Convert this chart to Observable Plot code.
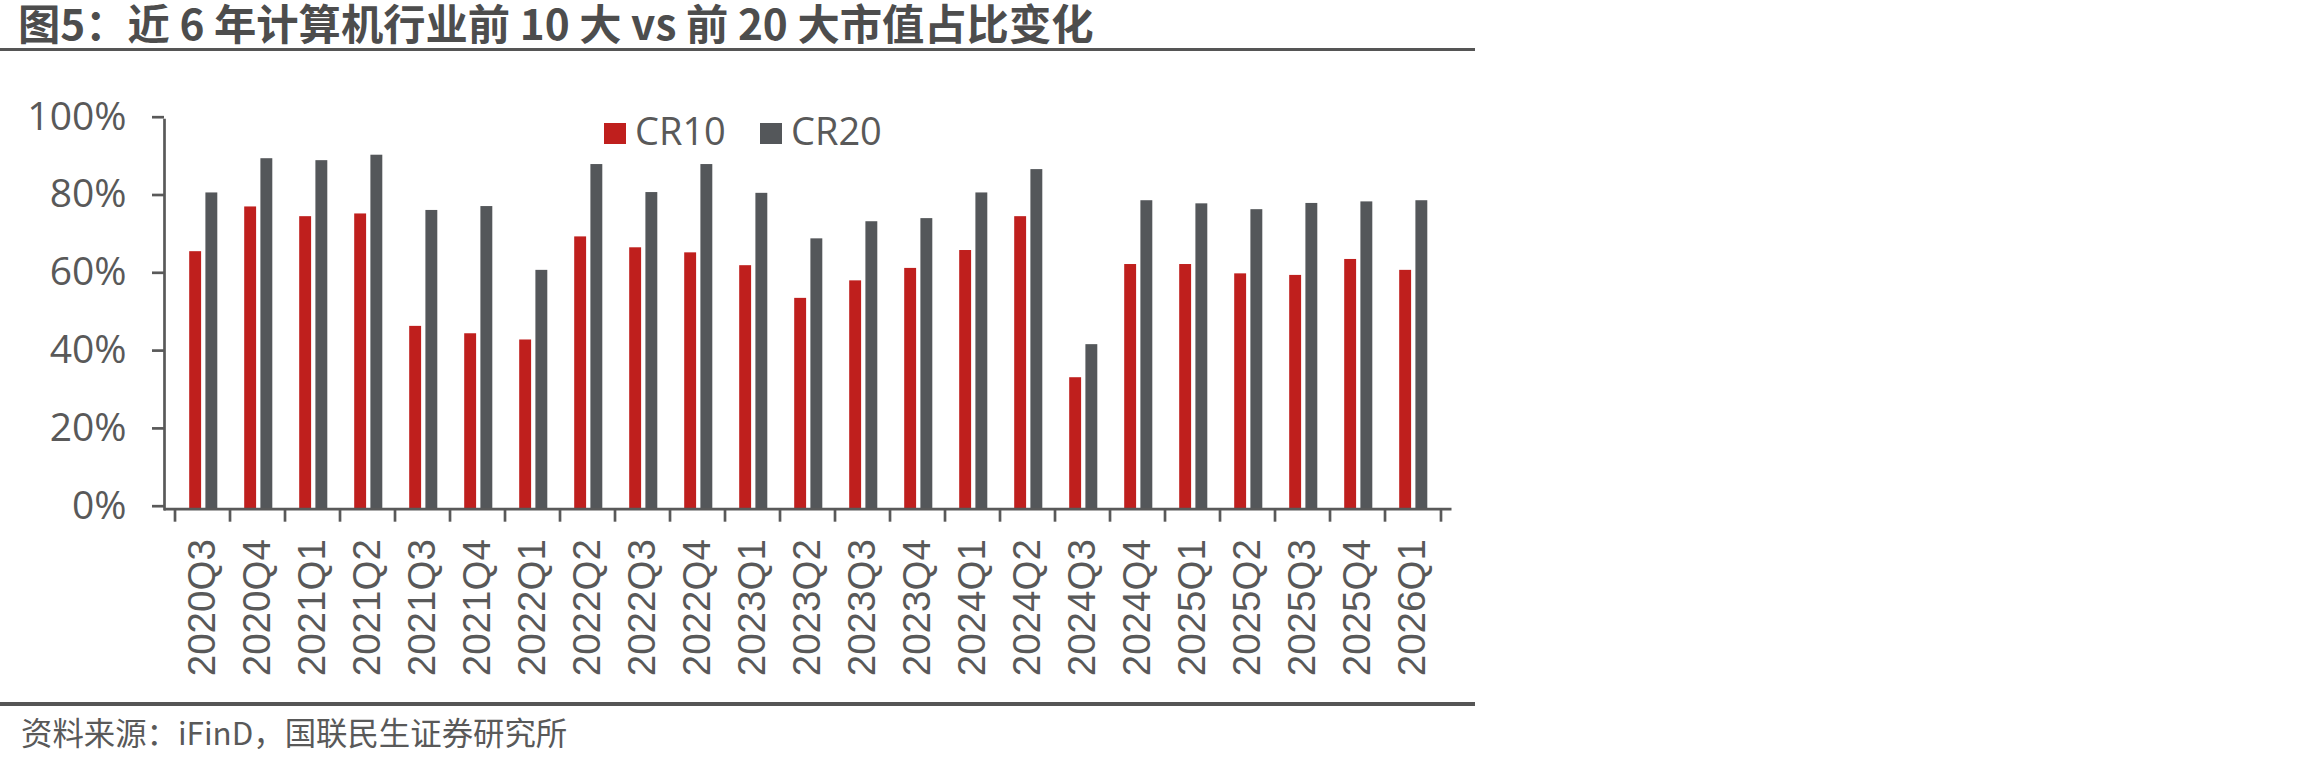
<!DOCTYPE html>
<html>
<head>
<meta charset="utf-8">
<script src="https://cdn.jsdelivr.net/npm/d3@7"></script>
<script src="https://cdn.jsdelivr.net/npm/@observablehq/plot@0.6"></script>
<style>
  html, body { margin: 0; padding: 0; background: #fff; }
  #wrap { position: relative; width: 2310px; height: 765px; background: #fff; overflow: hidden; }
  #title { position: absolute; left: 18px; top: 0px; font-family: "Noto Sans CJK SC", sans-serif; font-weight: bold; font-size: 42.3px; line-height: 1.05; color: #4d4d4d; white-space: nowrap; }
  .rule { position: absolute; left: 0; width: 1475px; height: 3.5px; background: #555; }
  #chart { position: absolute; left: 0; top: 59.5px; line-height: 0; }
  #chart svg { display: block; }
  #legend { position: absolute; left: 604px; top: 111px; height: 40px; font-family: "Open Sans", sans-serif; font-size: 38px; line-height: 1; color: #595959; white-space: nowrap; }
  .sw { position: absolute; top: 11.7px; width: 21.7px; height: 21.7px; }
  .lt { position: absolute; top: 0; }
  #caption { position: absolute; left: 21px; top: 716px; font-family: "Noto Sans CJK SC", sans-serif; font-size: 31.4px; line-height: 1; color: #595959; white-space: nowrap; }
</style>
</head>
<body>
<div id="wrap">
  <div id="title"></div>
  <div class="rule" style="top:47.5px"></div>
  <div id="chart"></div>
  <div id="legend"></div>
  <div class="rule" style="top:702px"></div>
  <div id="caption"></div>
</div>
<script>
const titleText = "图5：近 6 年计算机行业前 10 大 vs 前 20 大市值占比变化";
const captionText = "资料来源：iFinD，国联民生证券研究所";
const quarters = ["2020Q3","2020Q4","2021Q1","2021Q2","2021Q3","2021Q4","2022Q1","2022Q2","2022Q3","2022Q4","2023Q1","2023Q2","2023Q3","2023Q4","2024Q1","2024Q2","2024Q3","2024Q4","2025Q1","2025Q2","2025Q3","2025Q4","2026Q1"];
const cr10 = [66.2,77.7,75.2,75.9,47.0,45.1,43.5,70.0,67.2,65.9,62.6,54.2,58.7,61.9,66.5,75.2,33.8,62.9,62.9,60.5,60.1,64.2,61.4];
const cr20 = [81.3,90.1,89.6,91.0,76.8,77.8,61.4,88.6,81.4,88.6,81.2,69.5,73.9,74.7,81.3,87.3,42.3,79.3,78.5,77.0,78.6,79.0,79.3];
const seriesNames = ["CR10", "CR20"];
const seriesColors = ["#BF1F1D", "#54575A"];
const yTicks = [0, 20, 40, 60, 80, 100];

const rows = quarters.map((q, i) => ({q, cr10: cr10[i], cr20: cr20[i]}));

document.getElementById("title").textContent = titleText;
document.getElementById("caption").textContent = captionText;

const legend = document.getElementById("legend");
const legendOffsets = [0, 156];
seriesNames.forEach((name, i) => {
  const s = document.createElement("div");
  s.className = "sw";
  s.style.left = legendOffsets[i] + "px";
  s.style.background = seriesColors[i];
  legend.appendChild(s);
  const t = document.createElement("div");
  t.className = "lt";
  t.style.left = (legendOffsets[i] + 31) + "px";
  t.textContent = name;
  legend.appendChild(t);
});

const W = 1480, H = 642;
const axisColor = "#595959";
const sw = 2.7;
const half = (W - 164 - 28.5) / quarters.length / 2;

const chart = Plot.plot({
  width: W,
  height: H,
  marginLeft: 164,
  marginRight: 28.5,
  marginTop: 59.7,
  marginBottom: 193.3,
  style: {fontFamily: "Open Sans, sans-serif", color: axisColor, background: "#fff"},
  x: {type: "band", domain: quarters, padding: 0, axis: null, label: null},
  y: {domain: [0, 100], axis: null, label: null},
  marks: [
    Plot.barY(rows, {x: "q", y: "cr10", fill: seriesColors[0], insetLeft: 14.2, insetRight: 28.9}),
    Plot.barY(rows, {x: "q", y: "cr20", fill: seriesColors[1], insetLeft: 30.4, insetRight: 12.7}),
    Plot.frame({anchor: "left", stroke: axisColor, strokeWidth: sw}),
    Plot.ruleY([0], {stroke: axisColor, strokeWidth: sw}),
    Plot.axisY({ticks: yTicks, tickFormat: d => d + "%", tickSize: 12, tickPadding: 26, fontSize: 39, strokeWidth: sw, dy: -3, label: null}),
    Plot.axisX({ticks: quarters, tickSize: 13, tickFormat: () => "", dx: -half, strokeWidth: sw, label: null}),
    Plot.axisX({ticks: [quarters[quarters.length - 1]], tickSize: 13, tickFormat: () => "", dx: half, strokeWidth: sw, label: null}),
    Plot.axisX({ticks: quarters, tickSize: 0, tickPadding: 30, tickRotate: -90, fontSize: 38.5, fontFamily: "Liberation Sans, Arial, sans-serif", label: null})
  ]
});
document.getElementById("chart").appendChild(chart);
</script>
</body>
</html>
